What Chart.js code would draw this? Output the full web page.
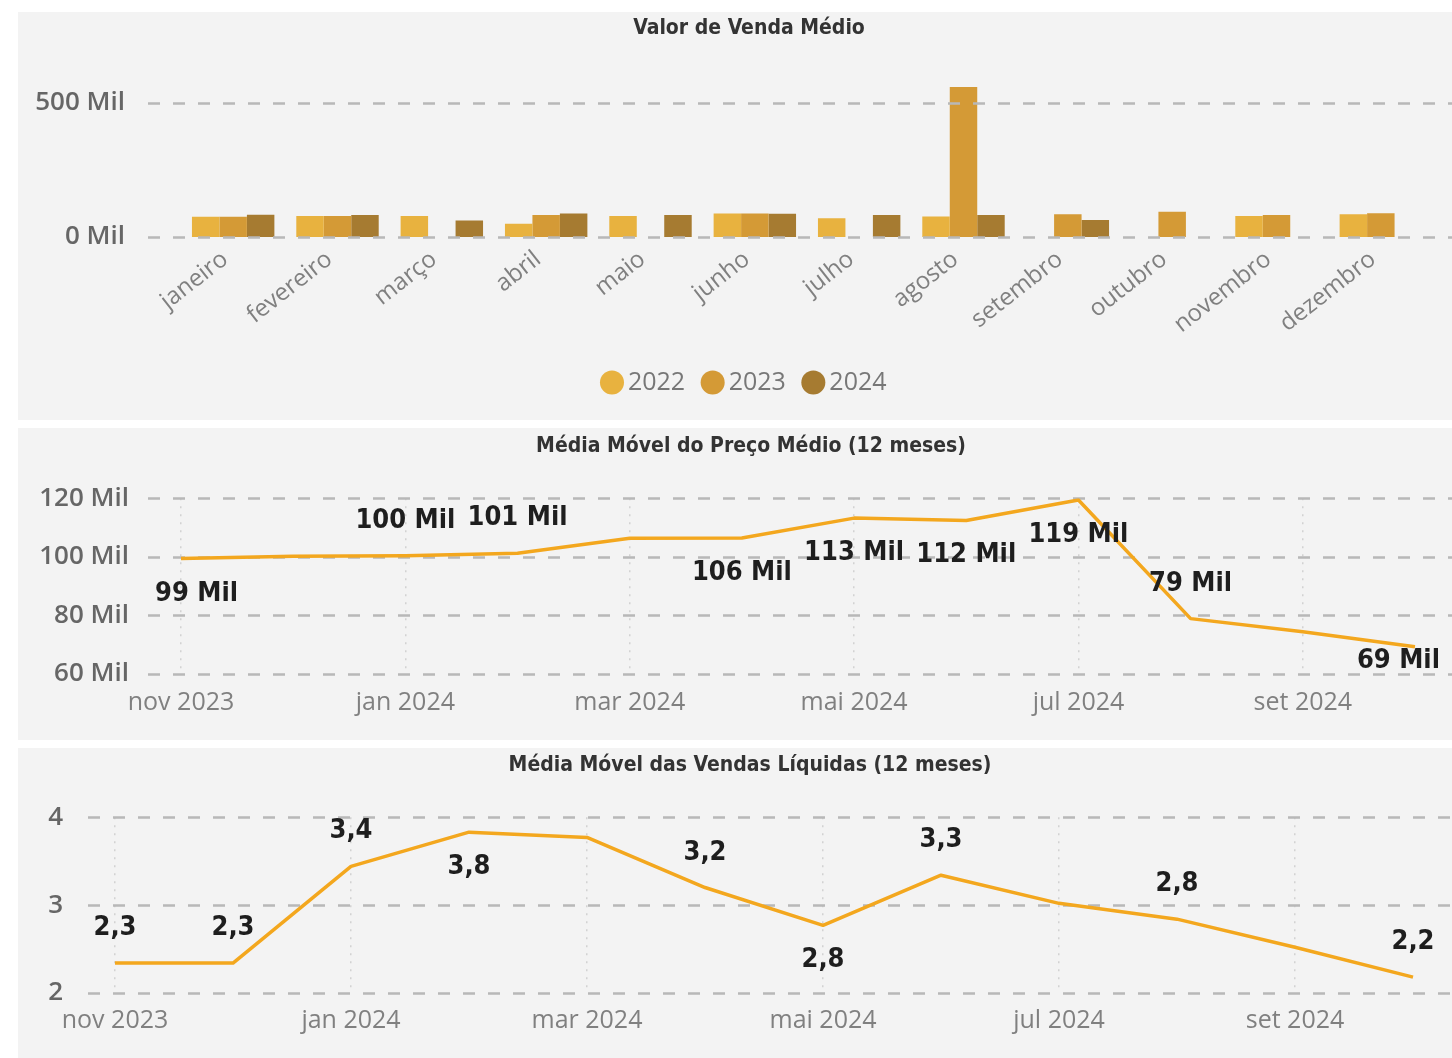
<!DOCTYPE html>
<html lang="pt-BR">
<head>
<meta charset="utf-8">
<title>Vendas</title>
<script src="https://cdn.jsdelivr.net/npm/chart.js@4.4.1/dist/chart.umd.min.js"></script>
<style>
  html, body { margin: 0; padding: 0; background: #fff; overflow: hidden; width: 1452px; height: 1058px; }
  .panel { position: absolute; left: 18px; width: 1464px; background: #f3f3f3; }
  #p1 { top: 12px; height: 408px; }
  #p2 { top: 428px; height: 312px; }
  #p3 { top: 748px; height: 310px; }
  canvas { display: block; }
</style>
</head>
<body>
<div class="panel" id="p1"><canvas id="vendaChart" width="1464" height="408"></canvas></div>
<div class="panel" id="p2"><canvas id="precoChart" width="1464" height="312"></canvas></div>
<div class="panel" id="p3"><canvas id="vendasChart" width="1464" height="310"></canvas></div>
<script>
const meses = ['janeiro', 'fevereiro', 'março', 'abril', 'maio', 'junho', 'julho', 'agosto', 'setembro', 'outubro', 'novembro', 'dezembro'];
const anos = ['2022', '2023', '2024'];
const venda2022 = [75000, 78000, 78000, 49000, 78000, 87000, 70000, 76000, null, null, 78000, 85000];
const venda2023 = [75000, 78000, null, 82000, null, 87000, null, 558000, 85000, 94000, 82000, 88000];
const venda2024 = [83000, 82000, 61000, 87000, 82000, 86000, 82000, 82000, 63000, null, null, null];
const vendaTicks = [0, 500000];

const periodos = ['nov 2023', 'dez 2023', 'jan 2024', 'fev 2024', 'mar 2024', 'abr 2024', 'mai 2024', 'jun 2024', 'jul 2024', 'ago 2024', 'set 2024', 'out 2024'];
const precoMedio = [99400, 100200, 100400, 101200, 106300, 106400, 113200, 112400, 119400, 78900, 74400, 69300];
const vendasLiquidas = [2.34, 2.34, 3.44, 3.83, 3.77, 3.2, 2.77, 3.34, 3.02, 2.84, 2.52, 2.18];

// onde cada rótulo fica em relação ao ponto (null = sem rótulo)
const precoRotulos = ['below', null, 'above', 'above', null, 'below', 'below', 'below', 'below', 'above', null, 'below'];
const vendasRotulos = ['above', 'above', 'above', 'below', null, 'above', 'below', 'above', null, 'above', null, 'above'];

const FONTE = "'Open Sans', 'Noto Sans', sans-serif";
const FONTE_COND = "'DejaVu Sans Condensed', 'Liberation Sans Narrow', 'Noto Sans', sans-serif";
const LARANJA = '#F3A71E';

const mil = v => Math.round(v / 1000) + ' Mil';
const decimal = v => v.toFixed(1).replace('.', ',');

// linhas horizontais tracejadas, mais largas que a área do gráfico
function gradeTracejada(x0, naFrente) {
  const desenha = chart => {
    const {ctx, scales: {y}} = chart;
    ctx.save();
    ctx.strokeStyle = '#b8b8b8';
    ctx.lineWidth = 2.5;
    ctx.setLineDash([12, 13]);
    y.ticks.forEach(t => {
      const py = Math.round(y.getPixelForValue(t.value)) + 0.5;
      ctx.beginPath();
      ctx.moveTo(x0, py);
      ctx.lineTo(chart.width, py);
      ctx.stroke();
    });
    ctx.restore();
  };
  return naFrente ? {id: 'grade', afterDatasetsDraw: desenha} : {id: 'grade', beforeDatasetsDraw: desenha};
}

// empurra título e legenda para o centro do painel
function centraliza(dxTitulo, dxLegenda) {
  return {
    id: 'centraliza',
    afterLayout(chart) {
      if (chart.titleBlock) {
        chart.titleBlock.left += dxTitulo;
        chart.titleBlock.right += dxTitulo;
      }
      if (chart.legend && dxLegenda) {
        chart.legend.left += dxLegenda;
        chart.legend.right += dxLegenda;
      }
    }
  };
}

// rótulos de valor acima/abaixo dos pontos da linha
function rotulos(posicoes, formato, minX, maxX) {
  return {
    id: 'rotulos',
    afterDatasetsDraw(chart) {
      const {ctx, chartArea} = chart;
      const meta = chart.getDatasetMeta(0);
      const valores = chart.data.datasets[0].data;
      ctx.save();
      ctx.font = 'bold 27px ' + FONTE_COND;
      ctx.fillStyle = '#1e1e1e';
      ctx.textAlign = 'center';
      ctx.textBaseline = 'middle';
      meta.data.forEach((pt, i) => {
        const onde = posicoes[i];
        if (!onde) return;
        const texto = formato(valores[i]);
        const w = ctx.measureText(texto).width;
        const x = Math.min(Math.max(pt.x, minX + w / 2), maxX - w / 2);
        let y = onde === 'above' ? pt.y - 35 : pt.y + 35;
        y = Math.min(y, chartArea.bottom - 13);
        ctx.fillText(texto, x, y);
      });
      ctx.restore();
    }
  };
}

const titulo = (texto, top, bottom) => ({
  display: true,
  text: texto,
  color: '#333',
  font: {family: FONTE_COND, size: 21, weight: 'bold'},
  padding: {top: top, bottom: bottom}
});

new Chart(document.getElementById('vendaChart'), {
  type: 'bar',
  data: {
    labels: meses,
    datasets: [
      {label: anos[0], data: venda2022, backgroundColor: '#E8B23F'},
      {label: anos[1], data: venda2023, backgroundColor: '#D49A36'},
      {label: anos[2], data: venda2024, backgroundColor: '#A67B31'}
    ]
  },
  options: {
    responsive: false,
    animation: false,
    categoryPercentage: 0.79,
    barPercentage: 1,
    layout: {padding: {left: 0, right: 49, bottom: 15}},
    scales: {
      x: {
        grid: {display: false},
        border: {display: false},
        ticks: {color: '#808080', font: {family: FONTE, size: 24}, minRotation: 38, maxRotation: 38, autoSkip: false, padding: 0, labelOffset: -8},
        afterFit(s) { s.height = 109; }
      },
      y: {
        min: 0,
        max: 600000,
        grid: {display: false},
        border: {display: false},
        ticks: {color: '#666', padding: 48, font: {family: FONTE, size: 26, weight: '600'}, callback: v => mil(v)},
        afterBuildTicks(s) { s.ticks = vendaTicks.map(v => ({value: v})); },
        afterFit(s) { s.width = 163; }
      }
    },
    plugins: {
      title: titulo('Valor de Venda Médio', 0, 34),
      legend: {
        position: 'bottom',
        labels: {usePointStyle: true, pointStyle: 'circle', boxWidth: 7, boxHeight: 17, padding: 24, color: '#777', font: {family: FONTE, size: 25}}
      },
      tooltip: {enabled: false}
    }
  },
  plugins: [gradeTracejada(130, true), centraliza(23.5, 22)]
});

function graficoLinha(id, valores, opcoes) {
  return new Chart(document.getElementById(id), {
    type: 'line',
    data: {
      labels: periodos,
      datasets: [{data: valores, borderColor: LARANJA, borderWidth: 3.5, pointRadius: 0, tension: 0, borderJoinStyle: 'round'}]
    },
    options: {
      responsive: false,
      animation: false,
      layout: {padding: {left: 0, right: opcoes.padR}},
      scales: {
        x: {
          grid: {color: '#d2d2d2', lineWidth: 1.5, drawTicks: false},
          border: {display: false, dash: [2, 6]},
          ticks: {
            color: '#808080', font: {family: FONTE, size: 25}, autoSkip: false, maxRotation: 0, padding: opcoes.xPad,
            callback(v, i) { return i % 2 === 0 ? this.getLabelForValue(v) : null; }
          },
          afterFit(s) { s.height = opcoes.xAltura; }
        },
        y: {
          min: opcoes.min,
          max: opcoes.max,
          grid: {display: false},
          border: {display: false},
          ticks: {stepSize: opcoes.passo, color: '#666', padding: opcoes.yPad, font: {family: FONTE, size: 26, weight: '600'}, callback: opcoes.fmtEixo},
          afterFit(s) { s.width = opcoes.yLargura; }
        }
      },
      plugins: {
        title: opcoes.titulo,
        legend: {display: false},
        tooltip: {enabled: false}
      }
    },
    plugins: [
      gradeTracejada(opcoes.gradeX0, false),
      rotulos(opcoes.rotulos, opcoes.fmt, opcoes.minX, opcoes.maxX),
      centraliza(opcoes.dxTitulo, 0)
    ]
  });
}

graficoLinha('precoChart', precoMedio, {
  padR: 67, yLargura: 163, yPad: 44, xAltura: 66, xPad: 14,
  min: 60000, max: 120000, passo: 20000, fmtEixo: v => mil(v),
  titulo: titulo('Média Móvel do Preço Médio (12 meses)', 6, 39), dxTitulo: 34.5,
  gradeX0: 130, rotulos: precoRotulos, fmt: mil, minX: 137, maxX: 1422
});

graficoLinha('vendasChart', vendasLiquidas, {
  padR: 69, yLargura: 97, yPad: 44, xAltura: 65, xPad: 13,
  min: 2, max: 4, passo: 1, fmtEixo: v => String(v),
  titulo: titulo('Média Móvel das Vendas Líquidas (12 meses)', 5, 39), dxTitulo: 34.5,
  gradeX0: 70, rotulos: vendasRotulos, fmt: decimal, minX: 60, maxX: 1430
});
</script>
</body>
</html>
